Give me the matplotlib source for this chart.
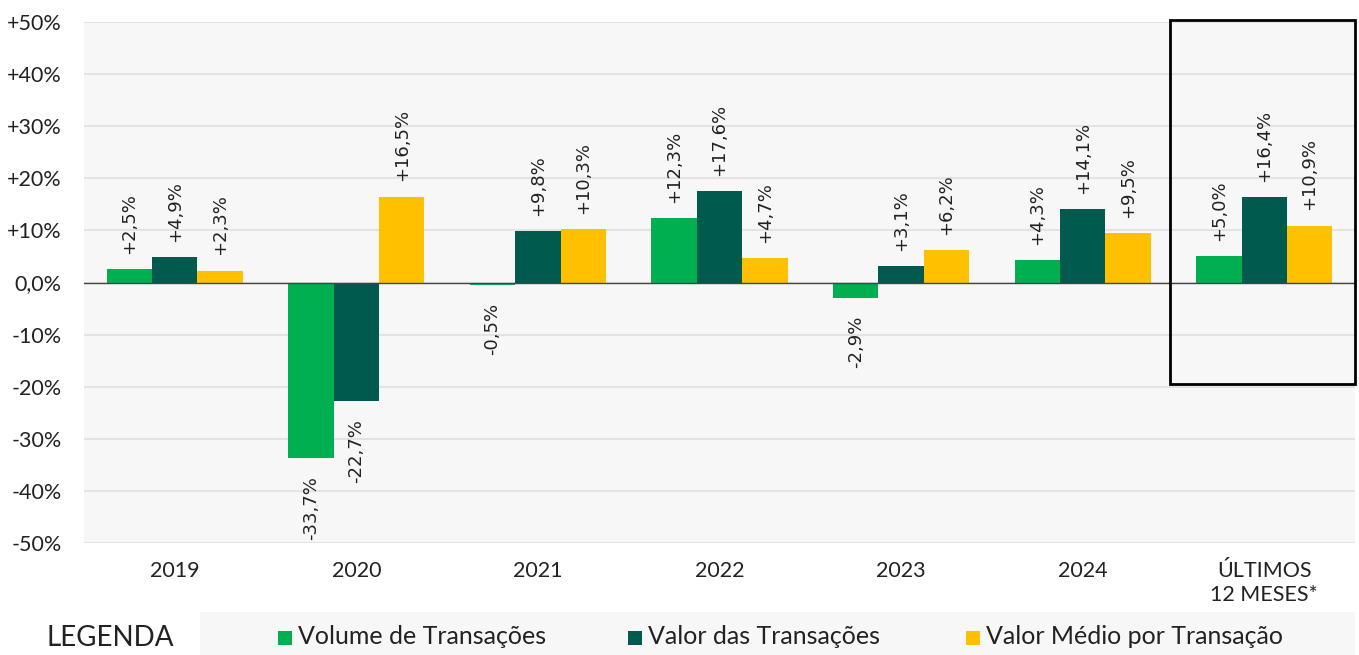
import matplotlib
matplotlib.use('Agg')
from matplotlib import pyplot as plt
from matplotlib.patches import Rectangle
import numpy as np

# --- data
categories = ["2019", "2020", "2021", "2022", "2023", "2024", "ÚLTIMOS\n12 MESES*"]
series_names = ["Volume de Transações", "Valor das Transações", "Valor Médio por Transação"]
volume = [2.5, -33.7, -0.5, 12.3, -2.9, 4.3, 5.0]
valor = [4.9, -22.7, 9.8, 17.6, 3.1, 14.1, 16.4]
valor_medio = [2.3, 16.5, 10.3, 4.7, 6.2, 9.5, 10.9]
colors = ["#00B050", "#005A4E", "#FFC000"]

plt.rcParams['font.family'] = ['Lato', 'DejaVu Sans']

W, H = 1359, 655
fig = plt.figure(figsize=(W / 100, H / 100), dpi=100)
ax = fig.add_axes([84 / W, 1 - 543 / H, (1355 - 84) / W, (543 - 22) / H])
ax.set_facecolor("#f7f7f7")

x = np.arange(len(categories))
width = 0.25
for i, (vals, col) in enumerate(zip([volume, valor, valor_medio], colors)):
    pos = x + (i - 1) * width
    ax.bar(pos, vals, width, color=col, zorder=3)
    for xp, v in zip(pos, vals):
        s = ("+" if v >= 0 else "") + f"{v:.1f}%".replace(".", ",")
        if v >= 0:
            ax.annotate(s, (xp, v), xytext=(0, 11), textcoords="offset points",
                        rotation=90, ha="center", va="bottom", fontsize=13,
                        family="DejaVu Sans", color="#222222", zorder=4)
        else:
            ax.annotate(s, (xp, v), xytext=(0, -13), textcoords="offset points",
                        rotation=90, ha="center", va="top", fontsize=13,
                        family="DejaVu Sans", color="#222222", zorder=4)

ax.set_xlim(-0.5, len(categories) - 0.5)
ax.set_ylim(-50, 50)
yt = np.arange(-50, 51, 10)
ax.set_yticks(yt)
ax.set_yticklabels([("0,0%" if v == 0 else (f"+{v}%" if v > 0 else f"{v}%")) for v in yt])
ax.set_xticks(x)
ax.set_xticklabels(categories, linespacing=1.25)
ax.tick_params(axis="both", length=0, labelsize=15.5, colors="#222222")
ax.tick_params(axis="y", pad=16)
ax.tick_params(axis="x", pad=13)
ax.grid(axis="y", color="#e3e3e3", linewidth=1.5, zorder=0)
ax.axhline(0, color="#444444", linewidth=1, zorder=4)
for sp in ax.spines.values():
    sp.set_visible(False)

# box highlighting last 12 months
ax.add_patch(Rectangle((len(categories) - 1 - 0.52, -19.5), 1.02, 69.8,
                       fill=False, edgecolor="black", linewidth=2,
                       zorder=5, clip_on=False))

# legend strip
fig.add_artist(Rectangle((200 / W, 0), (1355 - 200) / W, 43 / H,
                         transform=fig.transFigure, facecolor="#f7f7f7",
                         edgecolor="none"))
fig.text(110 / W, 1 - 638 / H, "LEGENDA", ha="center", va="center",
         fontsize=20, color="#222222")
leg_x = [278, 628, 966]
for lx, name, col in zip(leg_x, series_names, colors):
    fig.add_artist(Rectangle((lx / W, 1 - 645 / H), 14 / W, 14 / H,
                             transform=fig.transFigure, facecolor=col,
                             edgecolor="none"))
    fig.text((lx + 20) / W, 1 - 637 / H, name, ha="left", va="center",
             fontsize=18, color="#222222")

fig.savefig("out.png", dpi=100)
